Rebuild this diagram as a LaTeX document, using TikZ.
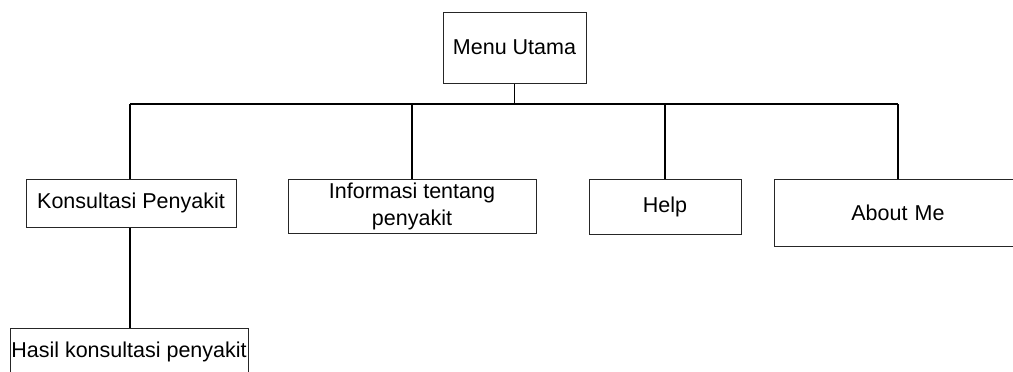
\documentclass[tikz,border=0pt]{standalone}
\usepackage{fontspec}
\setmainfont{Liberation Sans}
\begin{document}
\begin{tikzpicture}[x=1pt,y=-1pt,
  box/.style={draw=black!85,line width=1pt,fill=white,inner sep=0pt,align=center,
    font=\fontsize{21.5}{27}\selectfont},
  conn/.style={line width=1.8pt,black}]
\useasboundingbox (0,0) rectangle (1013,372);
\clip (0,0) rectangle (1013,372);
\coordinate (bl) at (130,104);
\coordinate (br) at (898,104);
\node[box,minimum width=143pt,minimum height=71pt] (menu) at (514.5,47.5) {Menu Utama};
\node[box,minimum width=210pt,minimum height=48pt] (kons) at (131,203) {Konsultasi Penyakit};
\node[box,minimum width=248pt,minimum height=54pt] (info) at (412,206) {Informasi tentang\\penyakit};
\node[box,minimum width=152pt,minimum height=55pt] (help) at (665,206.5) {Help};
\node[box,minimum width=240pt,minimum height=67pt,text width=230pt] (about) at (894,212.5) {\hspace*{8pt}About Me};
\node[box,minimum width=238pt,minimum height=70pt] (hasil) at (129,363) {};
\node[font=\fontsize{21.5}{27}\selectfont] (hasilt) at (129,352) {Hasil konsultasi penyakit};
\draw[conn] (menu.south) -- (bl -| menu.south);
\draw[conn] (bl) -- (br);
\draw[conn] (bl) -- (bl |- kons.north);
\draw[conn] (info.north |- bl) -- (info.north);
\draw[conn] (help.north |- bl) -- (help.north);
\draw[conn] (br) -- (br |- about.north);
\draw[conn] (kons.south -| bl) -- (hasil.north -| bl);
\end{tikzpicture}
\end{document}
